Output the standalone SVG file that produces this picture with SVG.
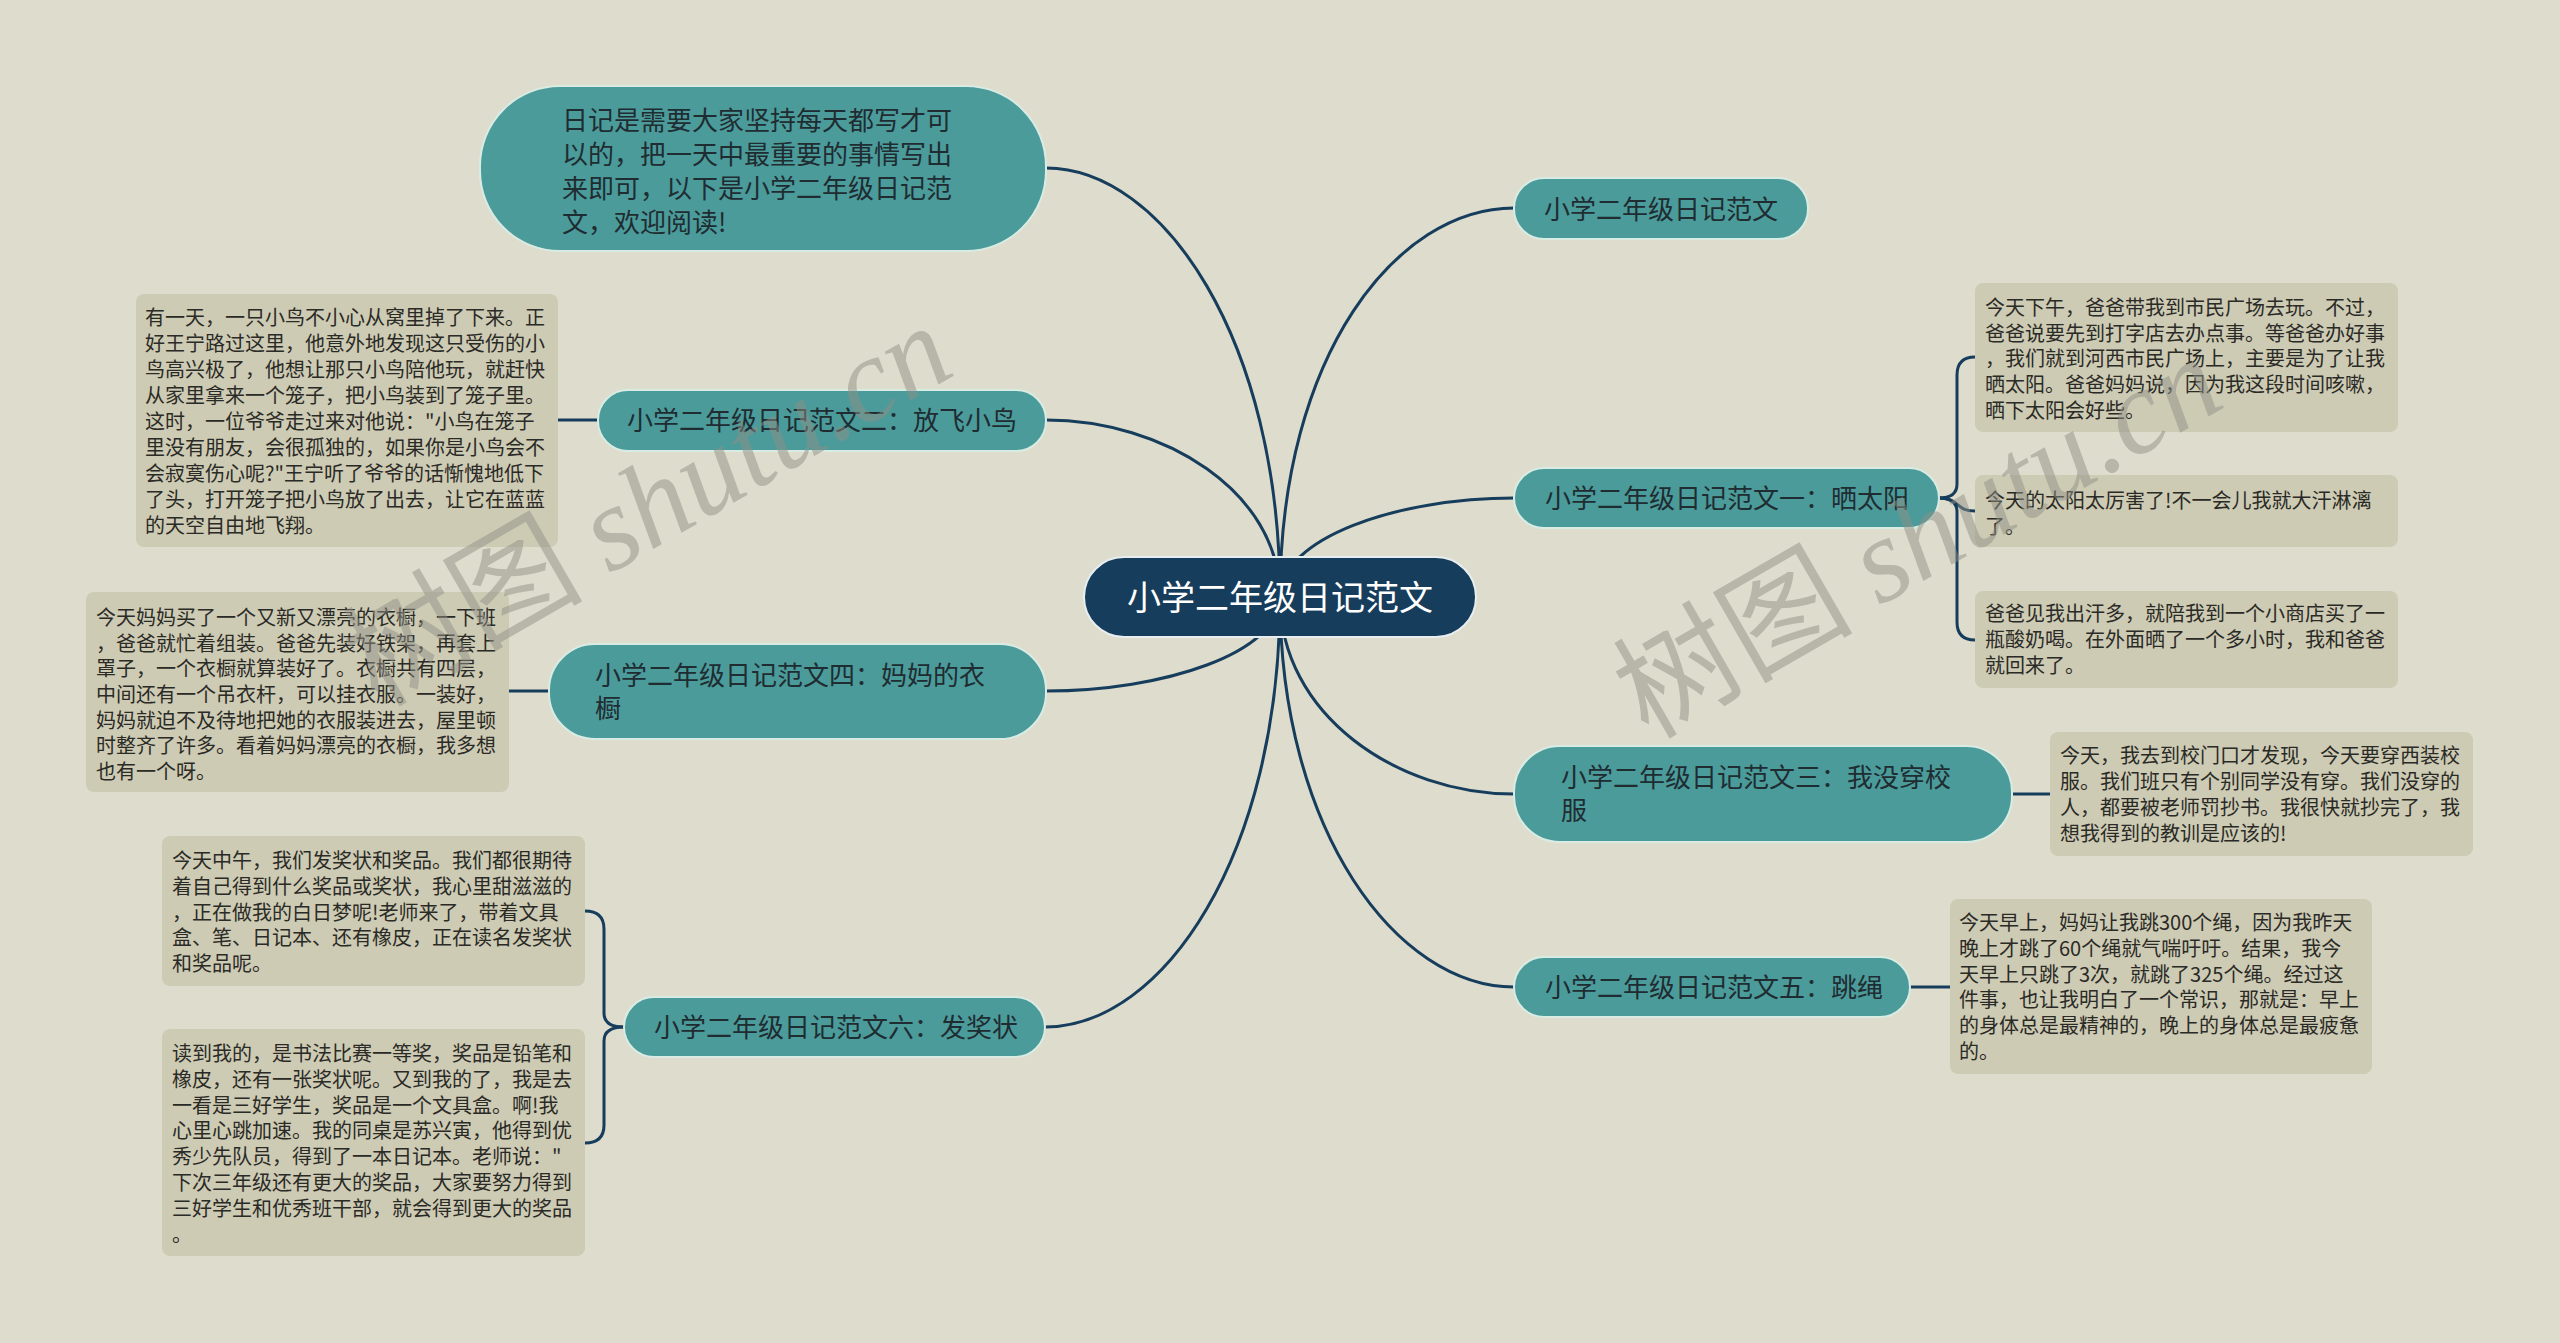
<svg xmlns="http://www.w3.org/2000/svg" width="2560" height="1343" viewBox="0 0 2560 1343">
<style>
.bg{fill:#dedccd}
.node rect{fill:#4b9b9b;stroke:#d9ece4;stroke-width:2}
.node text{font-family:"Noto Sans CJK SC","Noto Sans",sans-serif;font-size:26px;fill:#1f2c31}
.root rect{fill:#173d5c;stroke:#e8eef0;stroke-width:2}
.root text{font-family:"Noto Sans CJK SC","Noto Sans",sans-serif;font-size:34px;fill:#ffffff}
.box rect{fill:#cecbb4}
.box text{font-family:"Noto Sans CJK SC","Noto Sans",sans-serif;font-size:20px;fill:#2a2a26}
.links path{fill:none;stroke:#173d5c;stroke-width:3}
.wm{font-family:"Noto Sans CJK SC",sans-serif;font-size:120px;fill:#8f8f86;fill-opacity:0.5}
.wm tspan.en{font-family:"Liberation Serif",serif;font-style:italic}
</style>
<rect class="bg" x="0" y="0" width="2560" height="1343"/>

<g id="connectors" class="links">
<path d="M1280 597 C1280 340 1163 168 1046 168"/>
<path d="M1280 597 C1280 491 1163 420 1046 420"/>
<path d="M1280 597 C1280 653 1163 691 1046 691"/>
<path d="M1280 597 C1280 855 1163 1027 1045 1027"/>
<path d="M1280 597 C1280 354 1397 208 1514 208"/>
<path d="M1280 597 C1280 538 1397 498 1514 498"/>
<path d="M1280 597 C1280 715 1397 794 1514 794"/>
<path d="M1280 597 C1280 831 1397 987 1514 987"/>
<path d="M598 420 L558 420"/>
<path d="M549 691 L509 691"/>
<path d="M2012 794 L2050 794"/>
<path d="M1910 987 L1950 987"/>
<path d="M1939 498 Q1957 498 1957 484 L1957 375 Q1957 357 1975 357"/>
<path d="M1939 498 C1960 498 1955 511 1975 511"/>
<path d="M1939 498 Q1957 498 1957 512 L1957 622 Q1957 640 1975 640"/>
<path d="M624 1027 Q604 1027 604 1013 L604 929 Q604 911 585 911"/>
<path d="M624 1027 Q604 1027 604 1041 L604 1125 Q604 1143 585 1143"/>
</g>

<g id="root" class="root">
<rect x="1084" y="557" width="392" height="80" rx="40"/>
<text x="1280" y="610" text-anchor="middle">小学二年级日记范文</text>
</g>

<g id="intro" class="node">
<rect x="480" y="86" width="566" height="165" rx="80"/>
<text x="562" y="130">日记是需要大家坚持每天都写才可</text>
<text x="562" y="164">以的，把一天中最重要的事情写出</text>
<text x="562" y="198">来即可，以下是小学二年级日记范</text>
<text x="562" y="232">文，欢迎阅读!</text>
</g>

<g id="n-fanwen" class="node">
<rect x="1514" y="178" width="294" height="61" rx="30"/>
<text x="1544" y="219">小学二年级日记范文</text>
</g>

<g id="n-1" class="node">
<rect x="1514" y="468" width="425" height="60" rx="30"/>
<text x="1545" y="508">小学二年级日记范文一：晒太阳</text>
</g>

<g id="n-3" class="node">
<rect x="1514" y="746" width="498" height="96" rx="46"/>
<text x="1561" y="787">小学二年级日记范文三：我没穿校</text>
<text x="1561" y="820">服</text>
</g>

<g id="n-5" class="node">
<rect x="1514" y="957" width="396" height="60" rx="30"/>
<text x="1545" y="997">小学二年级日记范文五：跳绳</text>
</g>

<g id="n-2" class="node">
<rect x="598" y="390" width="448" height="61" rx="30"/>
<text x="627" y="430">小学二年级日记范文二：放飞小鸟</text>
</g>

<g id="n-4" class="node">
<rect x="549" y="644" width="497" height="95" rx="46"/>
<text x="595" y="685">小学二年级日记范文四：妈妈的衣</text>
<text x="595" y="718">橱</text>
</g>

<g id="n-6" class="node">
<rect x="624" y="997" width="421" height="60" rx="30"/>
<text x="654" y="1037">小学二年级日记范文六：发奖状</text>
</g>

<g id="b-2" class="box">
<rect x="136" y="294" width="422" height="253" rx="8"/>
<text x="145" y="325">有一天，一只小鸟不小心从窝里掉了下来。正</text>
<text x="145" y="351">好王宁路过这里，他意外地发现这只受伤的小</text>
<text x="145" y="377">鸟高兴极了，他想让那只小鸟陪他玩，就赶快</text>
<text x="145" y="403">从家里拿来一个笼子，把小鸟装到了笼子里。</text>
<text x="145" y="429">这时，一位爷爷走过来对他说："小鸟在笼子</text>
<text x="145" y="455">里没有朋友，会很孤独的，如果你是小鸟会不</text>
<text x="145" y="481">会寂寞伤心呢?"王宁听了爷爷的话惭愧地低下</text>
<text x="145" y="507">了头，打开笼子把小鸟放了出去，让它在蓝蓝</text>
<text x="145" y="533">的天空自由地飞翔。</text>
</g>

<g id="b-4" class="box">
<rect x="86" y="592" width="423" height="200" rx="8"/>
<text x="96" y="625">今天妈妈买了一个又新又漂亮的衣橱，一下班</text>
<text x="96" y="651">，爸爸就忙着组装。爸爸先装好铁架，再套上</text>
<text x="96" y="676">罩子，一个衣橱就算装好了。衣橱共有四层，</text>
<text x="96" y="702">中间还有一个吊衣杆，可以挂衣服。一装好，</text>
<text x="96" y="728">妈妈就迫不及待地把她的衣服装进去，屋里顿</text>
<text x="96" y="753">时整齐了许多。看着妈妈漂亮的衣橱，我多想</text>
<text x="96" y="779">也有一个呀。</text>
</g>

<g id="b-6a" class="box">
<rect x="162" y="836" width="423" height="150" rx="8"/>
<text x="172" y="868">今天中午，我们发奖状和奖品。我们都很期待</text>
<text x="172" y="894">着自己得到什么奖品或奖状，我心里甜滋滋的</text>
<text x="172" y="920">，正在做我的白日梦呢!老师来了，带着文具</text>
<text x="172" y="945">盒、笔、日记本、还有橡皮，正在读名发奖状</text>
<text x="172" y="971">和奖品呢。</text>
</g>

<g id="b-6b" class="box">
<rect x="162" y="1029" width="423" height="227" rx="8"/>
<text x="172" y="1061">读到我的，是书法比赛一等奖，奖品是铅笔和</text>
<text x="172" y="1087">橡皮，还有一张奖状呢。又到我的了，我是去</text>
<text x="172" y="1113">一看是三好学生，奖品是一个文具盒。啊!我</text>
<text x="172" y="1138">心里心跳加速。我的同桌是苏兴寅，他得到优</text>
<text x="172" y="1164">秀少先队员，得到了一本日记本。老师说："</text>
<text x="172" y="1190">下次三年级还有更大的奖品，大家要努力得到</text>
<text x="172" y="1216">三好学生和优秀班干部，就会得到更大的奖品</text>
<text x="172" y="1242">。</text>
</g>

<g id="b-1a" class="box">
<rect x="1975" y="283" width="423" height="149" rx="8"/>
<text x="1985" y="315">今天下午，爸爸带我到市民广场去玩。不过，</text>
<text x="1985" y="341">爸爸说要先到打字店去办点事。等爸爸办好事</text>
<text x="1985" y="366">，我们就到河西市民广场上，主要是为了让我</text>
<text x="1985" y="392">晒太阳。爸爸妈妈说，因为我这段时间咳嗽，</text>
<text x="1985" y="418">晒下太阳会好些。</text>
</g>

<g id="b-1b" class="box">
<rect x="1975" y="475" width="423" height="72" rx="8"/>
<text x="1985" y="508">今天的太阳太厉害了!不一会儿我就大汗淋漓</text>
<text x="1985" y="534">了。</text>
</g>

<g id="b-1c" class="box">
<rect x="1975" y="591" width="423" height="97" rx="8"/>
<text x="1985" y="621">爸爸见我出汗多，就陪我到一个小商店买了一</text>
<text x="1985" y="647">瓶酸奶喝。在外面晒了一个多小时，我和爸爸</text>
<text x="1985" y="673">就回来了。</text>
</g>

<g id="b-3" class="box">
<rect x="2050" y="732" width="423" height="124" rx="8"/>
<text x="2060" y="763">今天，我去到校门口才发现，今天要穿西装校</text>
<text x="2060" y="789">服。我们班只有个别同学没有穿。我们没穿的</text>
<text x="2060" y="815">人，都要被老师罚抄书。我很快就抄完了，我</text>
<text x="2060" y="841">想我得到的教训是应该的!</text>
</g>

<g id="b-5" class="box">
<rect x="1950" y="899" width="422" height="175" rx="8"/>
<text x="1959" y="930">今天早上，妈妈让我跳300个绳，因为我昨天</text>
<text x="1959" y="956">晚上才跳了60个绳就气喘吁吁。结果，我今</text>
<text x="1959" y="982">天早上只跳了3次，就跳了325个绳。经过这</text>
<text x="1959" y="1007">件事，也让我明白了一个常识，那就是：早上</text>
<text x="1959" y="1033">的身体总是最精神的，晚上的身体总是最疲惫</text>
<text x="1959" y="1059">的。</text>
</g>

<text class="wm" transform="translate(378 708) rotate(-30)">树图 <tspan class="en">shutu.cn</tspan></text>
<text class="wm" transform="translate(1648 740) rotate(-30)">树图 <tspan class="en">shutu.cn</tspan></text>
</svg>
